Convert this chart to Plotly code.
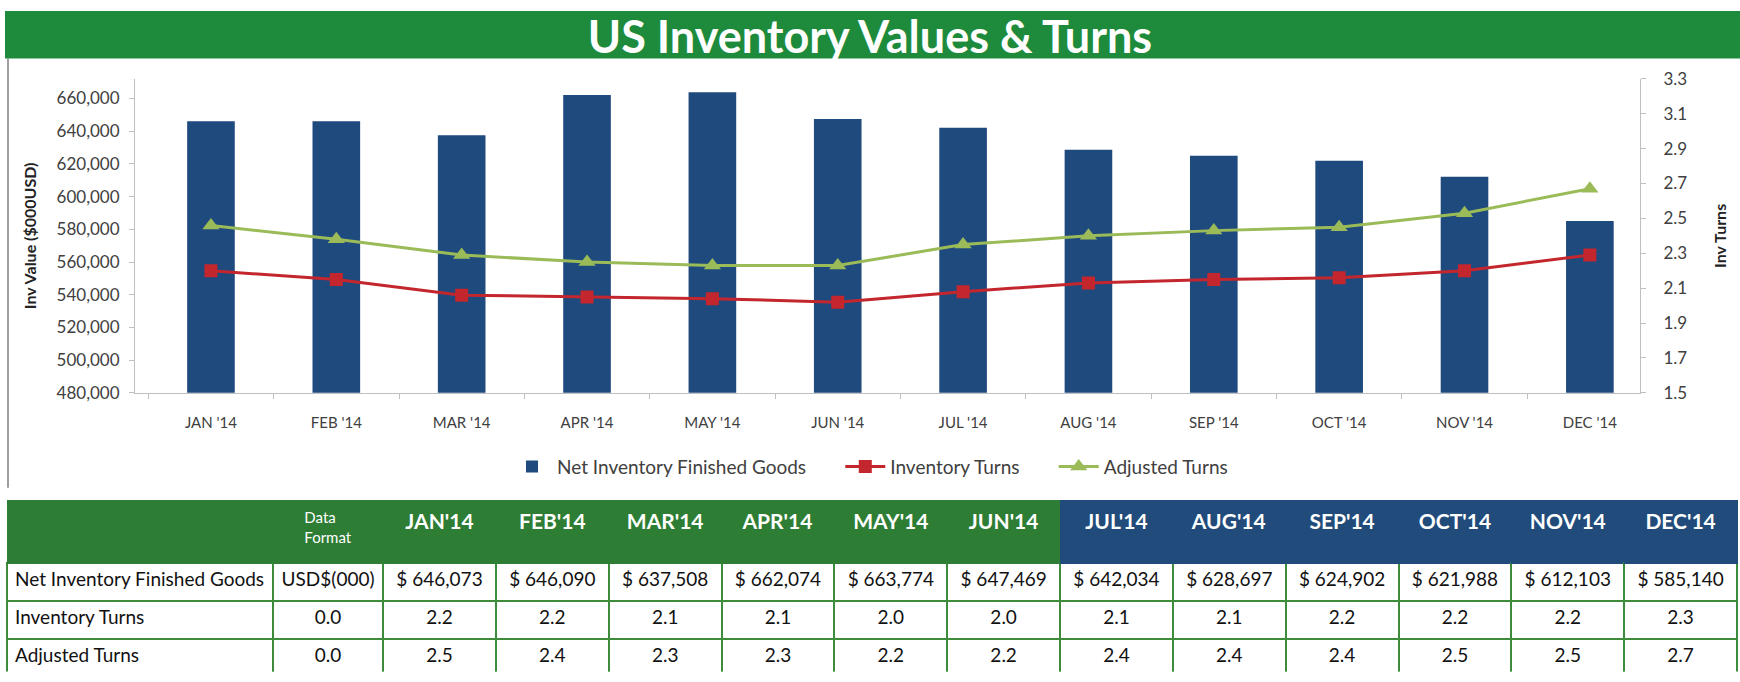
import plotly.graph_objects as go

# ---------------- data ----------------
months = ["JAN '14", "FEB '14", "MAR '14", "APR '14", "MAY '14", "JUN '14",
          "JUL '14", "AUG '14", "SEP '14", "OCT '14", "NOV '14", "DEC '14"]
table_months = ["JAN'14", "FEB'14", "MAR'14", "APR'14", "MAY'14", "JUN'14",
                "JUL'14", "AUG'14", "SEP'14", "OCT'14", "NOV'14", "DEC'14"]
net_inventory = [646073, 646090, 637508, 662074, 663774, 647469,
                 642034, 628697, 624902, 621988, 612103, 585140]
inventory_turns = [2.20, 2.15, 2.06, 2.05, 2.04, 2.02, 2.08, 2.13, 2.15, 2.16, 2.20, 2.29]
adjusted_turns = [2.46, 2.38, 2.29, 2.25, 2.23, 2.23, 2.35, 2.40, 2.43, 2.45, 2.53, 2.67]
turns_table = ["2.2", "2.2", "2.1", "2.1", "2.0", "2.0", "2.1", "2.1", "2.2", "2.2", "2.2", "2.3"]
adjusted_table = ["2.5", "2.4", "2.3", "2.3", "2.2", "2.2", "2.4", "2.4", "2.4", "2.5", "2.5", "2.7"]
row_labels = ["Net Inventory Finished Goods", "Inventory Turns", "Adjusted Turns"]
data_formats = ["USD$(000)", "0.0", "0.0"]
left_ticks = [480000, 500000, 520000, 540000, 560000, 580000, 600000, 620000, 640000, 660000]
grid_ticks = [500000, 520000, 540000, 560000, 580000, 600000, 620000]

# ---------------- styling ----------------
W, H = 1740, 682
BAR = "#1F4A7E"
RED = "#C4262E"
LGREEN = "#9BBB59"
BANNER = "#1E8B3C"
HDR_GREEN = "#2E7D34"
HDR_BLUE = "#214B7A"
GRID = "#D9D9D9"
AXIS = "#BFBFBF"
TXT = "#404040"
CHART_FONT = "Lato, Carlito, Calibri, sans-serif"
TABLE_FONT = "Lato, Carlito, Calibri, sans-serif"
NB = "\u00a0"
PLOT_TOP, PLOT_BOTTOM = 70, 394
Y_RANGE = [480000, 672000]


def nb(s):
    return s.replace(" ", NB)


fig = go.Figure()

fig.add_trace(go.Bar(
    x=months, y=net_inventory, name="Net Inventory Finished Goods" + NB * 6,
    marker=dict(color=BAR, line=dict(width=0)), xaxis="x", yaxis="y"))
fig.add_trace(go.Scatter(
    x=months, y=inventory_turns, name="Inventory Turns" + NB * 6, mode="lines+markers",
    line=dict(color=RED, width=3), marker=dict(symbol="square", size=13, color=RED),
    xaxis="x", yaxis="y2"))
fig.add_trace(go.Scatter(
    x=months, y=adjusted_turns, name="Adjusted Turns", mode="lines+markers",
    line=dict(color=LGREEN, width=3), marker=dict(symbol="triangle-up", size=15, color=LGREEN),
    xaxis="x", yaxis="y2"))

# table
header_vals = ["", "Data<br>Format"] + ["<b>%s</b>" % m for m in table_months]
header_fill = [HDR_GREEN] * 8 + [HDR_BLUE] * 6
header_sizes = [15, 15] + [21] * 12
cell_cols = [[nb(r) for r in row_labels], data_formats]
for i in range(len(table_months)):
    cell_cols.append([nb("$ {:,}".format(net_inventory[i])), turns_table[i], adjusted_table[i]])

fig.add_trace(go.Table(
    domain=dict(x=[7 / W, 1737 / W], y=[0, 1 - 505 / H]),
    columnwidth=[266, 110] + [112.8] * 12,
    header=dict(values=header_vals, fill_color=header_fill, height=63,
                line=dict(color=header_fill, width=1),
                font=dict(family=TABLE_FONT, color="white", size=header_sizes),
                align="center"),
    cells=dict(values=cell_cols, fill_color="white", height=38,
               line=dict(color="#3C8C3C", width=2),
               font=dict(family=TABLE_FONT, color="#111111", size=19),
               align=["left"] + ["center"] * 13),
))

fig.update_layout(
    width=W, height=H,
    margin=dict(l=0, r=0, t=0, b=0),
    paper_bgcolor="white", plot_bgcolor="white",
    font=dict(family=CHART_FONT, color=TXT),
    showlegend=True,
    bargap=0.62,
    title=dict(text="<b>US Inventory Values & Turns</b>", x=0.5, xanchor="center",
               y=1 - 27 / H, yanchor="middle", xref="paper", yref="paper",
               font=dict(family=CHART_FONT, size=45, color="white")),
    legend=dict(orientation="h", x=870 / W, xanchor="center", y=1 - 470 / H, yanchor="middle",
                font=dict(family=CHART_FONT, size=19, color=TXT), bgcolor="rgba(0,0,0,0)",
                itemwidth=40, traceorder="normal"),
    xaxis=dict(domain=[135 / W, 1640 / W], anchor="y", type="category",
               range=[-0.606, 11.4],
               showline=True, linecolor=AXIS, linewidth=1,
               ticks="outside", tickson="boundaries", ticklen=5, tickcolor=AXIS,
               tickfont=dict(size=15, color=TXT), ticklabelstandoff=16,
               showgrid=False, fixedrange=True),
    yaxis=dict(domain=[1 - PLOT_BOTTOM / H, 1 - PLOT_TOP / H], anchor="x",
               range=Y_RANGE, tickvals=left_ticks, tickformat=",",
               showgrid=False,
               showline=True, linecolor=AXIS, ticks="outside", ticklen=5, tickcolor=AXIS,
               tickfont=dict(size=17, color=TXT), ticklabelstandoff=6,
               title=dict(text="<b>Inv Value ($000USD)</b>", font=dict(size=16, color="#222222"),
                          standoff=15),
               zeroline=False),
    yaxis2=dict(overlaying="y", side="right", anchor="x",
                range=[1.5, 3.3], dtick=0.2, tick0=1.5, tickformat=".1f",
                showgrid=False, showline=True, linecolor=AXIS,
                ticks="outside", ticklen=5, tickcolor=AXIS,
                tickfont=dict(size=17, color=TXT), ticklabelstandoff=14,
                title=dict(text="<b>Inv Turns</b>", font=dict(size=16, color="#222222"),
                           standoff=28),
                zeroline=False),
    yaxis3=dict(overlaying="y", side="left", anchor="x", range=Y_RANGE,
                tickvals=grid_ticks, showticklabels=False, ticks="",
                showgrid=True, gridcolor=GRID, gridwidth=1, showline=False, zeroline=False),
    shapes=[
        dict(type="rect", xref="paper", yref="paper", x0=5 / W, x1=1, y0=1 - 49 / H, y1=1,
             fillcolor=BANNER, line=dict(width=0), layer="below"),
        dict(type="line", xref="paper", yref="paper", x0=8 / W, x1=8 / W, y0=1 - 49 / H, y1=1 - 492 / H,
             line=dict(color="#7F7F7F", width=1.5), layer="below"),
    ],
)

fig.write_html("out.html", config={"displayModeBar": False},
               post_script="document.body.style.margin='0';document.body.style.overflow='hidden';")
